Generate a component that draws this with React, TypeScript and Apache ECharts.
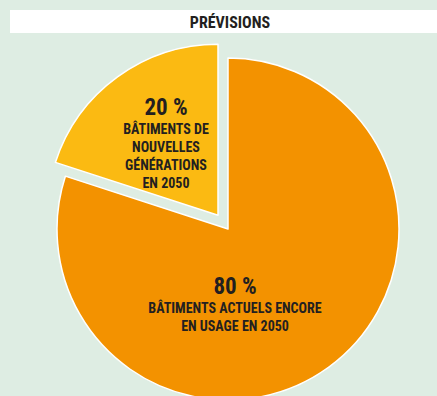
import React, { useEffect, useRef } from "react";
import * as echarts from "echarts";

const title = "PRÉVISIONS";
const categories = [
  "BÂTIMENTS ACTUELS ENCORE\nEN USAGE EN 2050",
  "BÂTIMENTS DE\nNOUVELLES\nGÉNÉRATIONS\nEN 2050",
];
const values = [80, 20];
const colors = ["#F39200", "#FBBA12"];

const FONT = '"Liberation Sans Narrow", "Roboto Condensed", "DejaVu Sans Condensed", "Liberation Sans", sans-serif';

export default function App() {
  const ref = useRef<HTMLDivElement>(null);
  useEffect(() => {
    document.body.style.margin = "0";
    if (!ref.current) return;
    const chart = echarts.init(ref.current, null, { renderer: "svg" });
    const labelPos = [
      { x: 235, y: 304 },
      { x: 155, y: 137 },
    ];
    chart.setOption({
      animation: false,
      backgroundColor: "#DEEDE3",
      graphic: [
        { type: "rect", shape: { x: 10, y: 10, width: 427, height: 23 }, style: { fill: "#ffffff" }, z: 0 },
        {
          type: "text",
          x: 230,
          y: 22,
          style: {
            text: title,
            align: "center",
            verticalAlign: "middle",
            fontFamily: FONT,
            fontWeight: "bold",
            fontSize: 16,
            fill: "#231F20",
          },
          z: 1,
        },
      ],
      series: [
        {
          type: "pie",
          center: [228, 229],
          radius: [0, 171],
          startAngle: 90,
          clockwise: true,
          selectedMode: "single",
          selectedOffset: 17,
          emphasis: { disabled: true },
          itemStyle: { borderColor: "#ffffff", borderWidth: 1.5 },
          labelLine: { show: false },
          label: {
            show: true,
            position: "inside",
            color: "#231F20",
            fontFamily: FONT,
            formatter: (p: any) => `{big|${p.value} %}\n{small|${p.name}}`,
            rich: {
              big: { fontFamily: FONT, fontWeight: "bold", fontSize: 23, lineHeight: 25, color: "#231F20", align: "center" },
              small: { fontFamily: FONT, fontWeight: "bold", fontSize: 14, lineHeight: 18, color: "#231F20", align: "center" },
            },
          },
          labelLayout: (p: any) => ({
            x: labelPos[p.dataIndex].x,
            y: labelPos[p.dataIndex].y,
            align: "center",
            verticalAlign: "middle",
          }),
          data: categories.map((name, i) => ({
            name,
            value: values[i],
            selected: i === 1,
            itemStyle: { color: colors[i] },
            select: { itemStyle: { color: colors[i] } },
            labelLine: { show: false },
          })),
        },
      ],
    });
    return () => chart.dispose();
  }, []);
  return <div ref={ref} style={{ width: 437, height: 396 }} />;
}
